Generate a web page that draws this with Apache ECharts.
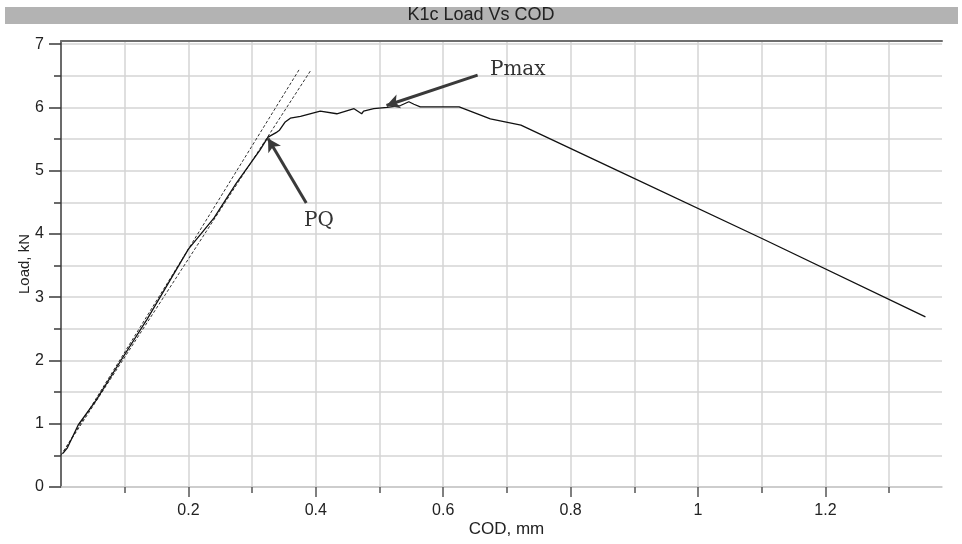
<!DOCTYPE html>
<html>
<head>
<meta charset="utf-8">
<script src="https://cdn.jsdelivr.net/npm/echarts@6/dist/echarts.min.js"></script>
<style>html,body{margin:0;padding:0;background:#fff}#c{width:962px;height:544px}</style>
</head>
<body>
<div id="c"></div>
<script>
// ---- data ----
const codValues  = [0.003, 0.010, 0.027, 0.055, 0.094, 0.135, 0.200, 0.240, 0.275, 0.312, 0.325, 0.339, 0.343, 0.352, 0.360, 0.376, 0.407, 0.433, 0.460, 0.472, 0.475, 0.491, 0.512, 0.533, 0.546, 0.554, 0.564, 0.625, 0.674, 0.722, 0.868, 1.102, 1.357];
const loadValues = [0.53, 0.62, 0.98, 1.37, 2.00, 2.65, 3.76, 4.25, 4.80, 5.32, 5.53, 5.61, 5.64, 5.77, 5.83, 5.86, 5.94, 5.90, 5.98, 5.90, 5.94, 5.98, 6.00, 6.03, 6.09, 6.05, 6.01, 6.01, 5.82, 5.72, 5.03, 3.92, 2.69];
const tangentCod  = [0.0, 0.374];
const tangentLoad = [0.5, 6.6];
const offsetCod   = [0.0, 0.393];
const offsetLoad  = [0.5, 6.6];
const xMajorTicks = [0.2, 0.4, 0.6, 0.8, 1, 1.2];
const xMinorTicks = [0.1, 0.3, 0.5, 0.7, 0.9, 1.1, 1.3];
const yMajorTicks = [0, 1, 2, 3, 4, 5, 6, 7];
const yMinorTicks = [0.5, 1.5, 2.5, 3.5, 4.5, 5.5, 6.5];
const annotationLabels = ['Pmax', 'PQ'];
const annotationLabelCod = [0.717, 0.405];
const annotationLabelLoad = [6.60, 4.21];
const arrowTailCod  = [0.654, 0.385];
const arrowTailLoad = [6.51, 4.49];
const arrowHeadCod  = [0.511, 0.325];
const arrowHeadLoad = [6.03, 5.51];

const zip = (a, b) => a.map((v, i) => [v, b[i]]);
const X_MIN = 0, X_MAX = 1.383, Y_MIN = 0, Y_MAX = 7.05;
const sans = 'Liberation Sans, Arial, sans-serif';
const serif = 'DejaVu Serif, serif';

const chart = echarts.init(document.getElementById('c'), null, {renderer: 'canvas'});
const grid = {left: 61, right: 20, top: 41, bottom: 57};

const option = {
  animation: false,
  backgroundColor: '#ffffff',
  title: {
    text: 'K1c Load Vs COD', left: 'center', top: 7, padding: 0,
    textStyle: {fontFamily: sans, fontSize: 18, fontWeight: 'normal', color: '#222', lineHeight: 17}
  },
  graphic: [{
    type: 'rect', z: -1, silent: true,
    shape: {x: 5, y: 7, width: 953, height: 17},
    style: {fill: '#b3b3b3'}
  }],
  grid: grid,
  xAxis: [
    { // data / grid axis
      type: 'value', min: X_MIN, max: X_MAX, interval: 0.1, position: 'bottom',
      axisLine: {show: true, onZero: false, lineStyle: {color: '#c8c8c8', width: 1.5}},
      axisTick: {show: false}, axisLabel: {show: false},
      splitLine: {show: true, showMinLine: false, showMaxLine: false, lineStyle: {color: '#d4d4d4', width: 1.5}},
      name: 'COD, mm', nameLocation: 'middle', nameGap: 34,
      nameTextStyle: {fontFamily: sans, fontSize: 17, color: '#222', padding: [0, 0, 0, 10]}
    },
    { // major ticks + labels
      type: 'value', min: X_MIN, max: X_MAX, position: 'bottom',
      axisLine: {show: false, onZero: false},
      axisTick: {show: true, customValues: xMajorTicks, length: 10, lineStyle: {color: '#555', width: 1.5}},
      axisLabel: {show: true, customValues: xMajorTicks, margin: 16, fontFamily: sans, fontSize: 16, color: '#222'},
      splitLine: {show: false}
    },
    { // minor ticks
      type: 'value', min: X_MIN, max: X_MAX, position: 'bottom',
      axisLine: {show: false, onZero: false},
      axisTick: {show: true, customValues: xMinorTicks, length: 6, lineStyle: {color: '#555', width: 1.5}},
      axisLabel: {show: false},
      splitLine: {show: false}
    },
    { // top frame line
      type: 'value', min: X_MIN, max: X_MAX, position: 'top',
      axisLine: {show: true, onZero: false, lineStyle: {color: '#6e6e6e', width: 2}},
      axisTick: {show: false}, axisLabel: {show: false}, splitLine: {show: false}
    }
  ],
  yAxis: [
    {
      type: 'value', min: Y_MIN, max: Y_MAX, interval: 0.5, position: 'left',
      axisLine: {show: true, onZero: false, lineStyle: {color: '#3a3a3a', width: 1.5}},
      axisTick: {show: false}, axisLabel: {show: false},
      splitLine: {show: true, showMinLine: true, showMaxLine: false, lineStyle: {color: '#d4d4d4', width: 1.5}},
      name: 'Load, kN', nameLocation: 'middle', nameGap: 29, nameRotate: 90,
      nameTextStyle: {fontFamily: sans, fontSize: 15, color: '#222'}
    },
    {
      type: 'value', min: Y_MIN, max: Y_MAX, position: 'left',
      axisLine: {show: false, onZero: false},
      axisTick: {show: true, customValues: yMajorTicks, length: 12, lineStyle: {color: '#3a3a3a', width: 1.5}},
      axisLabel: {show: true, customValues: yMajorTicks, margin: 17, fontFamily: sans, fontSize: 16, color: '#222'},
      splitLine: {show: false}
    },
    {
      type: 'value', min: Y_MIN, max: Y_MAX, position: 'left',
      axisLine: {show: false, onZero: false},
      axisTick: {show: true, customValues: yMinorTicks, length: 7, lineStyle: {color: '#3a3a3a', width: 1.5}},
      axisLabel: {show: false},
      splitLine: {show: false}
    }
  ],
  series: [
    {
      name: 'tangent', type: 'line', xAxisIndex: 0, yAxisIndex: 0,
      data: zip(tangentCod, tangentLoad), symbol: 'none', silent: true,
      lineStyle: {color: '#333', width: 1, type: [3, 2]}, z: 3
    },
    {
      name: 'offset', type: 'line', xAxisIndex: 0, yAxisIndex: 0,
      data: zip(offsetCod, offsetLoad), symbol: 'none', silent: true,
      lineStyle: {color: '#333', width: 1, type: [3, 2]}, z: 3
    },
    {
      name: 'Load', type: 'line', xAxisIndex: 0, yAxisIndex: 0,
      data: zip(codValues, loadValues), symbol: 'none', silent: true,
      lineStyle: {color: '#111', width: 1.3}, z: 4,
      markLine: {
        silent: true, animation: false,
        symbol: ['none', 'arrow'], symbolSize: [11, 13],
        lineStyle: {color: '#3a3a3a', width: 3, type: 'solid'},
        label: {show: false},
        data: arrowTailCod.map((c, i) => [
          {coord: [c, arrowTailLoad[i]]},
          {coord: [arrowHeadCod[i], arrowHeadLoad[i]]}
        ])
      },
      markPoint: {
        silent: true, animation: false,
        symbol: 'circle', symbolSize: 0,
        label: {show: true, position: 'inside', fontFamily: serif, fontSize: 20, color: '#333'},
        data: annotationLabels.map((t, i) => ({
          coord: [annotationLabelCod[i], annotationLabelLoad[i]], value: t,
          label: {formatter: t}
        }))
      }
    }
  ]
};
chart.setOption(option);
</script>
</body>
</html>
